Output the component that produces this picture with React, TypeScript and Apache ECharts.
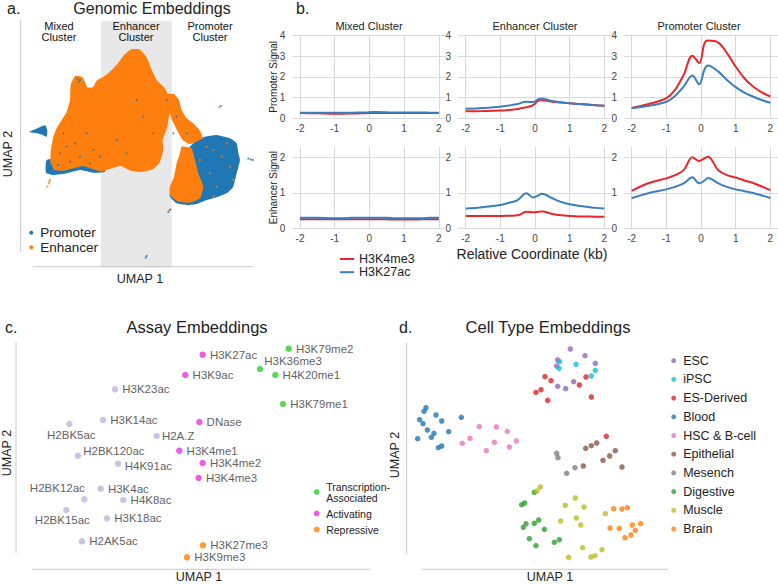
import React, { useEffect, useRef } from "react";
import * as echarts from "echarts";

// ---------- colours ----------
const BLUE_A = "#1f77b4";
const ORANGE_A = "#ff7f0e";
const RED_B = "#e8262b";
const BLUE_B = "#3b7dbd";
const FONT = "Liberation Sans, Arial, Helvetica, sans-serif";

// ---------- panel a: genomic embeddings (cloud outlines, UMAP units) ----------
const PROMOTER_REGIONS: number[][][] = [
  [[140, 480], [200, 470], [260, 470], [310, 480], [315, 515], [280, 518], [240, 510], [200, 520], [160, 525], [138, 518]],
  [[88, 396], [105, 388], [122, 380], [136, 376], [142, 392], [140, 410], [128, 405], [110, 400]],
  [[615, 410], [650, 405], [690, 415], [710, 430], [715, 460], [720, 480], [710, 520], [700, 560], [680, 580], [655, 590], [620, 600], [590, 612], [560, 615], [530, 610], [510, 590], [510, 560], [525, 540], [535, 500], [550, 465], [570, 440], [590, 420]],
];
const ENHANCER_REGIONS: number[][][] = [
  [[152, 455], [160, 410], [170, 385], [185, 360], [200, 335], [210, 300], [212, 255], [225, 228], [248, 232], [262, 262], [278, 262], [290, 242], [308, 232], [330, 215], [352, 192], [372, 165], [393, 148], [418, 148], [440, 172], [453, 205], [470, 240], [492, 262], [505, 285], [510, 320], [502, 380], [488, 420], [490, 450], [478, 490], [458, 508], [425, 516], [392, 512], [362, 498], [335, 505], [305, 515], [280, 508], [250, 498], [220, 505], [190, 512], [162, 510], [152, 490]],
  [[492, 290], [505, 282], [522, 282], [537, 300], [545, 330], [560, 355], [582, 372], [600, 392], [608, 415], [590, 425], [568, 432], [548, 420], [532, 392], [517, 362], [505, 325]],
  [[545, 440], [575, 445], [585, 480], [595, 520], [610, 560], [600, 595], [570, 608], [535, 605], [512, 588], [510, 560], [522, 530], [530, 490], [540, 460]],
];
const PROMOTER_STRAYS = [[440, 768], [437, 773], [509, 630], [505, 636], [752, 478], [758, 480], [745, 476], [662, 318], [148, 505], [155, 498], [232, 236], [240, 240], [236, 246], [200, 440], [240, 470], [280, 450], [180, 460], [260, 400], [300, 470], [410, 300], [430, 350], [350, 420], [380, 460], [460, 400], [500, 300], [530, 350], [560, 400], [520, 400], [190, 400], [225, 430], [270, 490], [210, 485], [175, 495]];
const ENHANCER_STRAYS = [[150, 540], [146, 550], [142, 560], [148, 545], [658, 322], [512, 628], [640, 450], [665, 470], [630, 520], [690, 500], [650, 560], [600, 480], [620, 440], [680, 430], [700, 540], [640, 590]];

// ---------- panel b: signal profiles ----------
const COORD_KB = [-2, -1.5, -1, -0.75, -0.5, -0.25, -0.05, 0.1, 0.2, 0.5, 0.75, 1, 1.25, 1.5, 1.75, 2];
const PROM_MIXED_K4ME3 = [0.25, 0.24, 0.22, 0.22, 0.23, 0.24, 0.25, 0.26, 0.26, 0.26, 0.26, 0.26, 0.26, 0.26, 0.26, 0.26];
const PROM_MIXED_K27AC = [0.27, 0.27, 0.27, 0.27, 0.27, 0.28, 0.29, 0.3, 0.3, 0.29, 0.28, 0.28, 0.28, 0.28, 0.27, 0.27];
const PROM_ENH_K4ME3 = [0.34, 0.35, 0.37, 0.4, 0.45, 0.53, 0.63, 0.85, 0.87, 0.8, 0.76, 0.72, 0.69, 0.66, 0.63, 0.61];
const PROM_ENH_K27AC = [0.46, 0.5, 0.56, 0.62, 0.69, 0.8, 0.78, 0.92, 0.96, 0.83, 0.77, 0.72, 0.69, 0.66, 0.63, 0.6];
const PROM_PROM_K4ME3 = [0.5, 0.69, 0.97, 1.37, 2.09, 3.02, 2.66, 3.62, 3.75, 3.65, 3.14, 2.49, 1.93, 1.53, 1.25, 1.05];
const PROM_PROM_K27AC = [0.48, 0.6, 0.8, 1.08, 1.53, 2.06, 1.64, 2.35, 2.54, 2.25, 1.85, 1.5, 1.24, 1.05, 0.88, 0.75];
const ENH_MIXED_K4ME3 = [0.26, 0.26, 0.26, 0.26, 0.26, 0.26, 0.26, 0.26, 0.26, 0.26, 0.25, 0.25, 0.25, 0.26, 0.26, 0.26];
const ENH_MIXED_K27AC = [0.3, 0.3, 0.29, 0.29, 0.3, 0.3, 0.3, 0.3, 0.3, 0.3, 0.29, 0.29, 0.29, 0.29, 0.3, 0.3];
const ENH_ENH_K4ME3 = [0.35, 0.35, 0.35, 0.36, 0.37, 0.47, 0.46, 0.47, 0.48, 0.41, 0.37, 0.35, 0.34, 0.34, 0.33, 0.33];
const ENH_ENH_K27AC = [0.56, 0.6, 0.66, 0.72, 0.8, 0.99, 0.87, 0.93, 0.98, 0.85, 0.75, 0.68, 0.64, 0.61, 0.58, 0.56];
const ENH_PROM_K4ME3 = [1.06, 1.28, 1.41, 1.5, 1.64, 2.0, 1.9, 1.97, 2.02, 1.64, 1.5, 1.43, 1.35, 1.28, 1.18, 1.08];
const ENH_PROM_K27AC = [0.85, 1.0, 1.1, 1.17, 1.27, 1.44, 1.27, 1.35, 1.42, 1.27, 1.17, 1.1, 1.05, 1.0, 0.93, 0.86];
const CLUSTER_TITLES = ["Mixed Cluster", "Enhancer Cluster", "Promoter Cluster"];
const X_TICKS = [-2, -1, 0, 1, 2];
const PROM_TICKS = [0, 1, 2, 3, 4];
const ENH_TICKS = [0, 1, 2];

// ---------- panel c: assay embeddings ----------
const ASSAY_OTHER = [
  { name: "H3K23ac", v: [345, 328] }, { name: "H3K14ac", v: [309, 420] }, { name: "H2BK5ac", v: [208, 432] },
  { name: "H2A.Z", v: [470, 468] }, { name: "H2BK120ac", v: [234, 527] }, { name: "H4K91ac", v: [354, 551] },
  { name: "H3K4ac", v: [302, 626] }, { name: "H2BK12ac", v: [253, 658] }, { name: "H4K8ac", v: [370, 660] },
  { name: "H2BK15ac", v: [199, 690] }, { name: "H3K18ac", v: [321, 715] }, { name: "H2AK5ac", v: [246, 784] },
];
const ASSAY_ACTIVATING = [
  { name: "H3K27ac", v: [608, 224] }, { name: "H3K9ac", v: [556, 285] }, { name: "DNase", v: [598, 426] },
  { name: "H3K4me1", v: [538, 512] }, { name: "H3K4me2", v: [608, 549] }, { name: "H3K4me3", v: [596, 594] },
];
const ASSAY_TRANSCRIPTION = [
  { name: "H3K79me2", v: [866, 206] }, { name: "H3K36me3", v: [780, 267] },
  { name: "H4K20me1", v: [826, 285] }, { name: "H3K79me1", v: [849, 372] },
];
const ASSAY_REPRESSIVE = [{ name: "H3K27me3", v: [609, 796] }, { name: "H3K9me3", v: [561, 832] }];

// ---------- panel d: cell type embeddings ----------
const CELL_TYPES = ["ESC", "iPSC", "ES-Derived", "Blood", "HSC & B-cell", "Epithelial", "Mesench", "Digestive", "Muscle", "Brain"];
const CELL_COLORS = ["#9467bd", "#17becf", "#d62728", "#1f77b4", "#e377c2", "#8c564b", "#7f7f7f", "#2ca02c", "#bcbd22", "#ff7f0e"];
const CELL_POINTS: number[][][] = [
  [[556, 207], [600, 227], [518, 240], [631, 250], [515, 258], [566, 305], [518, 319], [542, 326]],
  [[524, 245], [573, 253], [631, 271], [522, 265], [619, 288]],
  [[480, 290], [498, 302], [603, 291], [583, 315], [468, 329], [453, 337], [488, 361], [619, 351], [664, 469]],
  [[123, 383], [117, 394], [104, 419], [114, 431], [153, 405], [170, 423], [127, 450], [147, 460], [191, 455], [98, 476], [139, 472], [160, 503], [170, 498], [229, 412]],
  [[283, 440], [334, 441], [367, 454], [255, 475], [232, 490], [328, 487], [394, 483], [373, 501], [304, 512]],
  [[602, 505], [619, 497], [635, 489], [691, 512], [674, 528], [654, 541], [595, 558], [711, 561]],
  [[515, 520], [519, 533], [570, 563], [545, 580]],
  [[448, 637], [410, 674], [419, 669], [461, 720], [448, 730], [423, 731], [415, 742], [478, 748], [433, 776], [508, 787], [523, 779], [453, 797]],
  [[466, 621], [456, 633], [571, 654], [541, 676], [597, 681], [661, 701], [574, 714], [527, 723], [587, 735], [593, 803], [651, 809], [630, 827], [618, 831], [551, 832]],
  [[686, 686], [711, 687], [727, 683], [675, 744], [703, 745], [742, 735], [767, 731], [751, 751], [738, 765], [720, 773]],
];

const labelFor = (name: string) => {
  const custom: Record<string, any> = {
    H2BK5ac: { position: "bottom", distance: 2, offset: [2, 0] },
    H2BK120ac: { position: "right", distance: 2, offset: [0, -5] },
    H4K91ac: { position: "right", distance: 3.5, offset: [0, 2] },
    H2BK12ac: { position: "top", distance: 2, offset: [-27, 0] },
    H2BK15ac: { position: "bottom", distance: 1, offset: [-4, 0] },
    H3K36me3: { position: "right", distance: 1, offset: [0, -8] },
    "H2A.Z": { position: "right", distance: 2 },
  };
  return custom[name] || { position: "right", distance: 4 };
};

function buildOption() {
  const grids: any[] = [{ left: 0, top: 0, width: 260, height: 270 }];
  const xAxes: any[] = [{ gridIndex: 0, type: "value", min: 0, max: 780, show: false }];
  const yAxes: any[] = [{ gridIndex: 0, type: "value", min: 0, max: 810, inverse: true, show: false }];
  const series: any[] = [];

  // panel a
  const polySeries = (name: string, color: string, polys: number[][][]) => ({
    type: "custom", name, coordinateSystem: "cartesian2d", xAxisIndex: 0, yAxisIndex: 0,
    itemStyle: { color }, silent: true,
    data: polys.map((p) => p[0]),
    renderItem: (params: any, api: any) => ({
      type: "polygon",
      shape: { points: polys[params.dataIndex].map((pt) => api.coord(pt)), smooth: 0.15 },
      style: { fill: color },
    }),
  });
  series.push(polySeries("Promoter", BLUE_A, PROMOTER_REGIONS));
  series.push(polySeries("Enhancer", ORANGE_A, ENHANCER_REGIONS));
  series.push({ type: "scatter", name: "Enhancer", xAxisIndex: 0, yAxisIndex: 0, symbolSize: 2.2, itemStyle: { color: ORANGE_A }, data: ENHANCER_STRAYS, silent: true });
  series.push({ type: "scatter", name: "Promoter", xAxisIndex: 0, yAxisIndex: 0, symbolSize: 2.2, itemStyle: { color: BLUE_A }, data: PROMOTER_STRAYS, silent: true });

  // panel b
  const colLefts = [292.4, 458, 624];
  const rows = [
    { top: 35.3, height: 83, max: 4, ticks: PROM_TICKS, data: [[PROM_MIXED_K4ME3, PROM_MIXED_K27AC], [PROM_ENH_K4ME3, PROM_ENH_K27AC], [PROM_PROM_K4ME3, PROM_PROM_K27AC]] },
    { top: 146.7, height: 81.8, max: 2.3, ticks: ENH_TICKS, data: [[ENH_MIXED_K4ME3, ENH_MIXED_K27AC], [ENH_ENH_K4ME3, ENH_ENH_K27AC], [ENH_PROM_K4ME3, ENH_PROM_K27AC]] },
  ];
  rows.forEach((row) => {
    colLefts.forEach((left, c) => {
      const gi = grids.length;
      grids.push({ left, top: row.top, width: 154, height: row.height });
      xAxes.push({
        gridIndex: gi, type: "value", min: -2.22, max: 2.22,
        axisLine: { show: false }, axisTick: { show: false }, splitLine: { show: false },
        axisLabel: { customValues: X_TICKS, fontSize: 10, color: "#444", margin: 5, fontFamily: FONT },
      });
      yAxes.push({
        gridIndex: gi, type: "value", min: 0, max: row.max,
        axisLine: { show: false }, axisTick: { show: false }, splitLine: { show: false },
        axisLabel: { customValues: row.ticks, fontSize: 10, color: "#444", margin: 7, fontFamily: FONT },
      });
      const [k4, k27] = row.data[c];
      series.push({
        type: "line", name: "H3K4me3", xAxisIndex: gi, yAxisIndex: gi, smooth: 0.35, symbol: "none",
        lineStyle: { color: RED_B, width: 2 }, itemStyle: { color: RED_B },
        data: COORD_KB.map((x, i) => [x, k4[i]]),
        markLine: {
          silent: true, symbol: ["none", "none"], z: 1, label: { show: false },
          lineStyle: { color: "#d9d9d9", width: 1, type: "solid" },
          emphasis: { disabled: true },
          data: [...X_TICKS.map((v) => ({ xAxis: v })), ...row.ticks.map((v) => ({ yAxis: v }))],
        },
      });
      series.push({
        type: "line", name: "H3K27ac", xAxisIndex: gi, yAxisIndex: gi, smooth: 0.35, symbol: "none",
        lineStyle: { color: BLUE_B, width: 2 }, itemStyle: { color: BLUE_B },
        data: COORD_KB.map((x, i) => [x, k27[i]]),
      });
    });
  });

  // panel c
  const gc = grids.length;
  grids.push({ left: 0, top: 280, width: 390, height: 304 });
  xAxes.push({ gridIndex: gc, type: "value", min: 0, max: 1170, show: false });
  yAxes.push({ gridIndex: gc, type: "value", min: 0, max: 912, inverse: true, show: false });
  const assaySeries = (name: string, color: string, pts: any[]) => ({
    type: "scatter", name, xAxisIndex: gc, yAxisIndex: gc, symbolSize: 6.5, itemStyle: { color },
    label: { show: true, formatter: "{b}", fontSize: 11.5, color: "#333", fontFamily: FONT },
    data: pts.map((p) => ({ name: p.name, value: p.v, label: labelFor(p.name) })),
  });
  series.push(assaySeries("Other", "#b9b6dc", ASSAY_OTHER));
  series.push(assaySeries("Activating", "#e632dd", ASSAY_ACTIVATING));
  series.push(assaySeries("Transcription-Associated", "#33cc33", ASSAY_TRANSCRIPTION));
  series.push(assaySeries("Repressive", "#ff7f0e", ASSAY_REPRESSIVE));

  // panel d
  const gd = grids.length;
  grids.push({ left: 385, top: 280, width: 393, height: 304 });
  xAxes.push({ gridIndex: gd, type: "value", min: 0, max: 1179, show: false });
  yAxes.push({ gridIndex: gd, type: "value", min: 0, max: 912, inverse: true, show: false });
  CELL_TYPES.forEach((name, i) => {
    series.push({ type: "scatter", name, xAxisIndex: gd, yAxisIndex: gd, symbolSize: 5.5, itemStyle: { color: CELL_COLORS[i] }, data: CELL_POINTS[i] });
  });

  const txt = (text: string, x: number, y: number, fontSize: number, extra: any = {}) => ({
    type: "text", x, y, silent: true, rotation: extra.rotation || 0,
    style: { text, fontSize, fontFamily: FONT, fill: extra.fill || "#222", align: extra.align || "center", verticalAlign: "middle", lineHeight: extra.lineHeight },
  });
  const ln = (x1: number, y1: number, x2: number, y2: number) => ({
    type: "line", silent: true, shape: { x1, y1, x2, y2 }, style: { stroke: "#c8c8c8", lineWidth: 1 },
  });

  const graphic: any[] = [
    { type: "rect", silent: true, z: -10, shape: { x: 101, y: 20.7, width: 70.7, height: 247 }, style: { fill: "#e8e8e8" } },
    ln(20.7, 20, 20.7, 252), ln(33, 266.7, 253, 266.7),
    ln(16, 342, 16, 553), ln(32, 569.3, 370, 569.3),
    ln(406.7, 343, 406.7, 554), ln(422, 569.3, 668, 569.3),
    txt("a.", 7, 8.5, 16, { align: "left" }),
    txt("Genomic Embeddings", 152, 8.5, 16),
    txt("Mixed\nCluster", 59, 31.5, 11, { lineHeight: 10.5, fill: "#111" }),
    txt("Enhancer\nCluster", 136, 31.5, 11, { lineHeight: 10.5, fill: "#111" }),
    txt("Promoter\nCluster", 210, 31.5, 11, { lineHeight: 10.5, fill: "#111" }),
    txt("UMAP 2", 7.5, 154, 12.5, { rotation: Math.PI / 2 }),
    txt("UMAP 1", 140, 279, 12.5),
    txt("b.", 296, 8.5, 16, { align: "left" }),
    ...CLUSTER_TITLES.map((t, i) => txt(t, [369, 535, 699][i], 26, 11)),
    txt("Promoter Signal", 273.3, 76.8, 10, { rotation: Math.PI / 2 }),
    txt("Enhancer Signal", 273.3, 187.6, 10, { rotation: Math.PI / 2 }),
    txt("Relative Coordinate (kb)", 532, 253.5, 14),
    txt("c.", 5, 327, 16, { align: "left" }),
    txt("Assay Embeddings", 197, 327, 16.5),
    txt("UMAP 1", 199, 577, 12.5),
    txt("UMAP 2", 6.5, 453, 12.5, { rotation: Math.PI / 2 }),
    txt("d.", 399, 327, 16, { align: "left" }),
    txt("Cell Type Embeddings", 548, 327, 16.5),
    txt("UMAP 1", 550, 577, 12.5),
    txt("UMAP 2", 395, 455, 12.5, { rotation: Math.PI / 2 }),
  ];

  const legendText = { fontSize: 12.5, color: "#222", fontFamily: FONT };
  return {
    animation: false,
    textStyle: { fontFamily: FONT },
    grid: grids, xAxis: xAxes, yAxis: yAxes, series, graphic,
    legend: [
      {
        data: [{ name: "Promoter", icon: "circle" }, { name: "Enhancer", icon: "circle" }],
        orient: "vertical", left: 24.3, top: 220.8, itemWidth: 8, itemHeight: 4, itemGap: 0.5,
        selectedMode: false, textStyle: { ...legendText, fontSize: 13.5 },
      },
      {
        data: [{ name: "H3K4me3", icon: "rect" }, { name: "H3K27ac", icon: "rect" }],
        orient: "vertical", left: 335, top: 247.5, itemWidth: 14, itemHeight: 2, itemGap: 0.2,
        selectedMode: false, textStyle: legendText,
      },
      {
        data: [{ name: "Transcription-Associated", icon: "circle" }, { name: "Activating", icon: "circle" }, { name: "Repressive", icon: "circle" }],
        formatter: (n: string) => (n === "Transcription-Associated" ? "Transcription-\nAssociated" : n),
        orient: "vertical", left: 308.7, top: 476, itemWidth: 9, itemHeight: 6, itemGap: 5,
        selectedMode: false, textStyle: { ...legendText, fontSize: 10.5, lineHeight: 11 },
      },
      {
        data: CELL_TYPES.map((n) => ({ name: n, icon: "circle" })),
        orient: "vertical", left: 666.2, top: 349.2, itemWidth: 9, itemHeight: 5, itemGap: 5.7,
        selectedMode: false, textStyle: legendText,
      },
    ],
  };
}

export default function App() {
  const ref = useRef<HTMLDivElement>(null);
  useEffect(() => {
    if (!ref.current) return;
    const chart = echarts.init(ref.current, undefined, { renderer: "svg" });
    chart.setOption(buildOption() as any);
    return () => chart.dispose();
  }, []);
  return <div ref={ref} style={{ position: "fixed", left: 0, top: 0, width: 778, height: 584, background: "#fff" }} />;
}
